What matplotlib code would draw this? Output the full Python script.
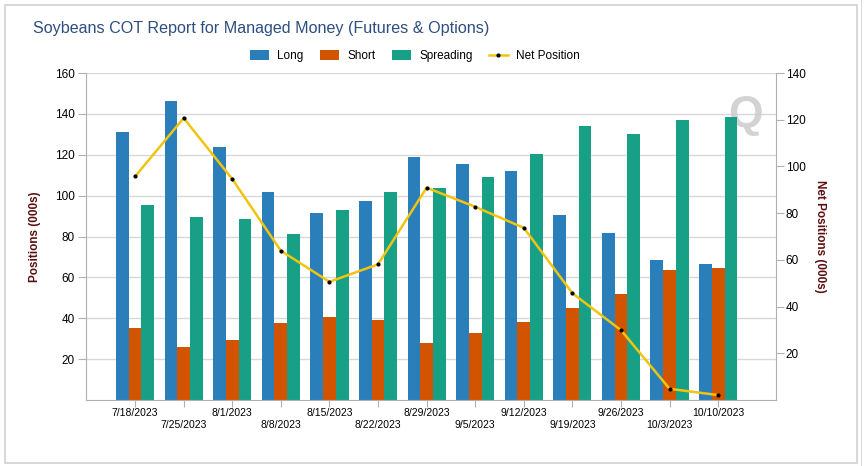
import numpy as np
import matplotlib.pyplot as plt
from matplotlib.patches import Rectangle

plt.rcParams['font.family'] = ['Liberation Sans', 'DejaVu Sans']

# Data (thousands of contracts)
dates = ["7/18/2023", "7/25/2023", "8/1/2023", "8/8/2023", "8/15/2023", "8/22/2023",
         "8/29/2023", "9/5/2023", "9/12/2023", "9/19/2023", "9/26/2023", "10/3/2023",
         "10/10/2023"]
long_pos = [131.3, 146.5, 123.9, 101.9, 91.6, 97.5, 119.0, 115.6, 112.2, 90.6, 81.8, 68.5, 66.6]
short_pos = [35.2, 25.9, 29.3, 37.6, 40.6, 39.1, 27.9, 32.7, 38.1, 45.0, 51.9, 63.6, 64.6]
spreading = [95.5, 89.6, 88.6, 81.3, 93.0, 101.9, 103.8, 109.2, 120.5, 134.2, 130.3, 137.2, 138.7]
net_pos = [95.7, 120.7, 94.6, 63.9, 50.6, 58.1, 90.9, 82.7, 73.7, 45.7, 29.9, 4.8, 2.1]

c_long = "#2a7fba"
c_short = "#d35400"
c_spread = "#17a086"
c_net = "#f1c40f"
label_red = "#5c0f0f"

fig = plt.figure(figsize=(8.64, 4.66), dpi=100)

# panel frame
fig.patches.append(Rectangle((5 / 864, 3 / 466), 852 / 864, 458 / 466, transform=fig.transFigure,
                             fill=False, edgecolor="#d0d0d8", lw=1.2))
fig.patches.append(Rectangle((861 / 864, 0), 0.001, 1, transform=fig.transFigure,
                             color="#d8d8e0", lw=0))

ax = fig.add_axes([86 / 864, 66 / 466, 690 / 864, 327 / 466])
x = np.arange(len(dates))
w = 0.262
ax.bar(x - w, long_pos, w, color=c_long, label="Long", zorder=2)
ax.bar(x, short_pos, w, color=c_short, label="Short", zorder=2)
ax.bar(x + w, spreading, w, color=c_spread, label="Spreading", zorder=2)

ax.set_xlim(-1.01, 13.19)
ax.set_ylim(0, 160)
ax.set_yticks(np.arange(20, 161, 20))
ax.yaxis.grid(True, color="#d8d8d8", lw=1, zorder=0)
ax.set_axisbelow(True)
ax.set_xticks(x)
ax.set_xticklabels([d if i % 2 == 0 else "\n" + d for i, d in enumerate(dates)])
ax.tick_params(axis="x", length=5, color="#b0b0b0", labelsize=7.5, pad=1)
ax.tick_params(axis="y", length=6, color="#b0b0b0", labelsize=8.5, pad=2)
for s in ["left", "bottom"]:
    ax.spines[s].set_color("#b0b0b0")
ax.spines["top"].set_visible(False)
ax.spines["right"].set_visible(False)
ax.set_ylabel("Positions (000s)", color=label_red, fontweight="bold", fontsize=8.5)
ax.yaxis.set_label_coords(-0.065, 0.5)

ax2 = ax.twinx()
ax2.plot(x, net_pos, color=c_net, lw=1.8, marker="o", markersize=2,
         markerfacecolor="black", markeredgecolor="black", label="Net Position", zorder=3)
ax2.set_ylim(0, 140)
ax2.set_yticks(np.arange(20, 141, 20))
ax2.tick_params(axis="y", length=6, color="#b0b0b0", labelsize=8.5, pad=1)
ax2.spines["right"].set_color("#b0b0b0")
for s in ["top", "left", "bottom"]:
    ax2.spines[s].set_visible(False)
ax2.set_ylabel("Net Positions (000s)", color=label_red, fontweight="bold", fontsize=8.5,
               rotation=-90)
ax2.yaxis.set_label_coords(1.072, 0.5)

# watermark
ax.text(0.955, 0.87, "Q", transform=ax.transAxes, fontsize=32, fontweight="bold",
        color="#cccccc", alpha=0.85, ha="center", va="center", zorder=1)

fig.text(33 / 864, 1 - 29 / 466, "Soybeans COT Report for Managed Money (Futures & Options)",
         fontsize=11.6, color="#2d4e80", va="center", ha="left")

h1, l1 = ax.get_legend_handles_labels()
h2, l2 = ax2.get_legend_handles_labels()
fig.legend(h1 + h2, l1 + l2, loc="center", bbox_to_anchor=(415 / 864, 1 - 56 / 466), ncol=4,
           frameon=False, fontsize=8.5, handlelength=1.6, handleheight=1.0, columnspacing=1.4,
           handletextpad=0.7)

fig.savefig("out.png", dpi=100)
